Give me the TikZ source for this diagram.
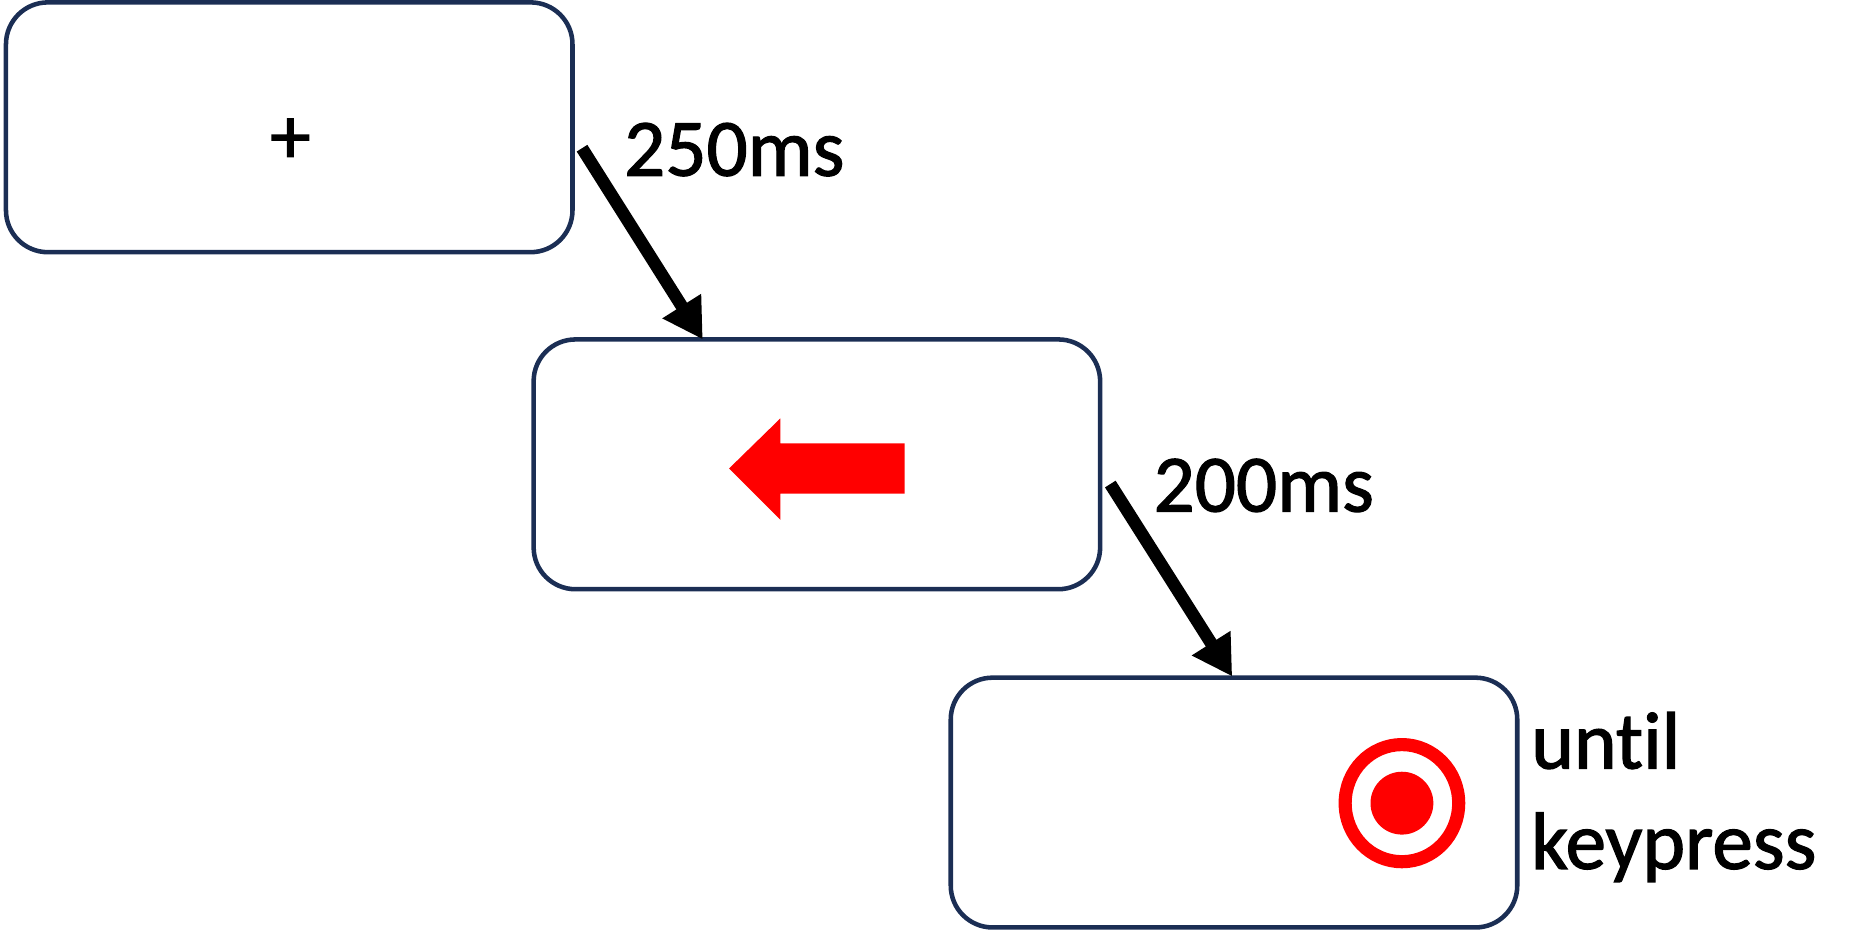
\documentclass[tikz,border=0pt]{standalone}
\usepackage{fontspec}
\setmainfont{Carlito}[Ligatures={NoCommon}, FakeBold=1.5]
\usetikzlibrary{arrows.meta}
\definecolor{boxnavy}{RGB}{27,46,84}
\begin{document}
\begin{tikzpicture}[x=1pt,y=-1pt,
  stim/.style={draw=boxnavy, line width=3.8pt, rounded corners=35pt, minimum width=474pt, minimum height=209pt, inner sep=0pt},
  lbl/.style={font=\fontsize{68}{82}\selectfont, inner sep=0pt, anchor=base west},
  bigarrow/.style={line width=10.5pt, -{Triangle[length=33pt,width=36pt]}},
]
\useasboundingbox (0,0) rectangle (1568,790);

% stimulus screens
\node[stim] (b1) at (242,106.5) {};
\node[stim] (b2) at (683.5,388.5) {};
\node[stim] (b3) at (1032.5,671.5) {};

% fixation cross
\node[font=\fontsize{68}{82}\selectfont, inner sep=0pt] (fix) at (243,118) {+};

% red left arrow cue
\fill[red] (610,392) -- (653,350) -- (653,371) -- (757,371) -- (757,413) -- (653,413) -- (653,435) -- cycle;

% target
\draw[red, line width=11pt] (1173,672) ellipse [x radius=47.5, y radius=49];
\fill[red] (1173,672) circle [radius=26.3];

% connectors
\coordinate (a1s) at (487,124);
\coordinate (a1e) at (588,284);
\coordinate (a2s) at (929,405);
\coordinate (a2e) at (1031,566);
\draw[bigarrow] (a1s) -- (a1e);
\draw[bigarrow] (a2s) -- (a2e);

% labels
\node[lbl] (t1) at (522,147) {250ms};
\node[lbl] (t2) at (965,428) {200ms};
\node[lbl] (t3) at (1281,643) {until};
\node[lbl] (t4) at (1281,727) {keypress};
\end{tikzpicture}
\end{document}
